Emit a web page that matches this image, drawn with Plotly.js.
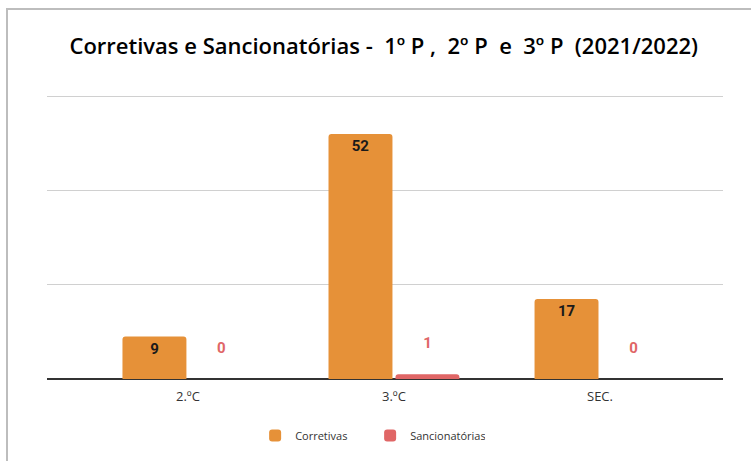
<!DOCTYPE html>
<html>
<head>
<meta charset="utf-8">
<script src="https://cdn.plot.ly/plotly-3.0.1.min.js"></script>
<style>
html,body{margin:0;padding:0;background:#fff;}
#wrap{position:relative;width:751px;height:461px;overflow:hidden;}
#chart{position:absolute;left:0;top:0;width:751px;height:461px;}
#frame{position:absolute;left:6px;top:8px;width:760px;height:470px;border-left:2px solid #bdbdbd;border-top:2px solid #bdbdbd;pointer-events:none;}
</style>
</head>
<body>
<div id="wrap"><div id="chart"></div><div id="frame"></div></div>
<script>
const categories = ["2.ºC", "3.ºC", "SEC."];
const corretivas = [9, 52, 17];
const sancionatorias = [0, 1, 0];
const seriesNames = ["Corretivas", "Sancionatórias"];
const gridValues = [20, 40, 60];
const titleText = "Corretivas e Sancionatórias -  1º P ,  2º P  e  3º P  (2021/2022)";

const orange = "#e69138";
const red = "#e06666";

const traces = [
  {
    type: "bar", name: seriesNames[0], x: categories, y: corretivas,
    marker: {color: orange},
    text: corretivas.map(String), textposition: "inside", insidetextanchor: "end",
    textfont: {family: "Roboto, Open Sans, sans-serif", size: 15, color: "#1a1a1a", weight: "bold"},
    constraintext: "none", cliponaxis: false, hoverinfo: "none"
  },
  {
    type: "bar", name: seriesNames[1], x: categories, y: sancionatorias,
    marker: {color: red},
    text: sancionatorias.map(v => v + "<br> "), textposition: "outside",
    textfont: {family: "Roboto, Open Sans, sans-serif", size: 15, color: red, weight: "bold"},
    constraintext: "none", cliponaxis: false, hoverinfo: "none"
  }
];

const layout = {
  width: 751, height: 461,
  margin: {l: 47, r: 28, t: 87, b: 81},
  paper_bgcolor: "#fff", plot_bgcolor: "#fff",
  title: {text: titleText, x: 0.511, xanchor: "center", y: 0.9, yanchor: "middle",
          font: {family: "Open Sans, sans-serif", size: 22, color: "#000", weight: 600}},
  barmode: "group", bargap: 0.35, bargroupgap: 0.045, barcornerradius: 3,
  xaxis: {type: "category", range: [-0.684, 2.597], showgrid: false, zeroline: false,
          showline: false, ticks: "", ticklabelstandoff: 8,
          tickfont: {family: "Open Sans, sans-serif", size: 13, color: "#333"}},
  yaxis: {range: [0, 62], tickvals: gridValues, showticklabels: false, showgrid: true, gridcolor: "#d0d0d0", gridwidth: 1,
          zeroline: true, zerolinecolor: "#333", zerolinewidth: 2, fixedrange: true},
  showlegend: true,
  legend: {orientation: "h", x: 0.478, xanchor: "center", y: -0.14, yanchor: "top",
           entrywidth: 70, entrywidthmode: "pixels",
           font: {family: "Open Sans, sans-serif", size: 11, color: "#333"}},
  uniformtext: {mode: false}
};

Plotly.newPlot("chart", traces, layout, {displayModeBar: false, staticPlot: true});
</script>
</body>
</html>
